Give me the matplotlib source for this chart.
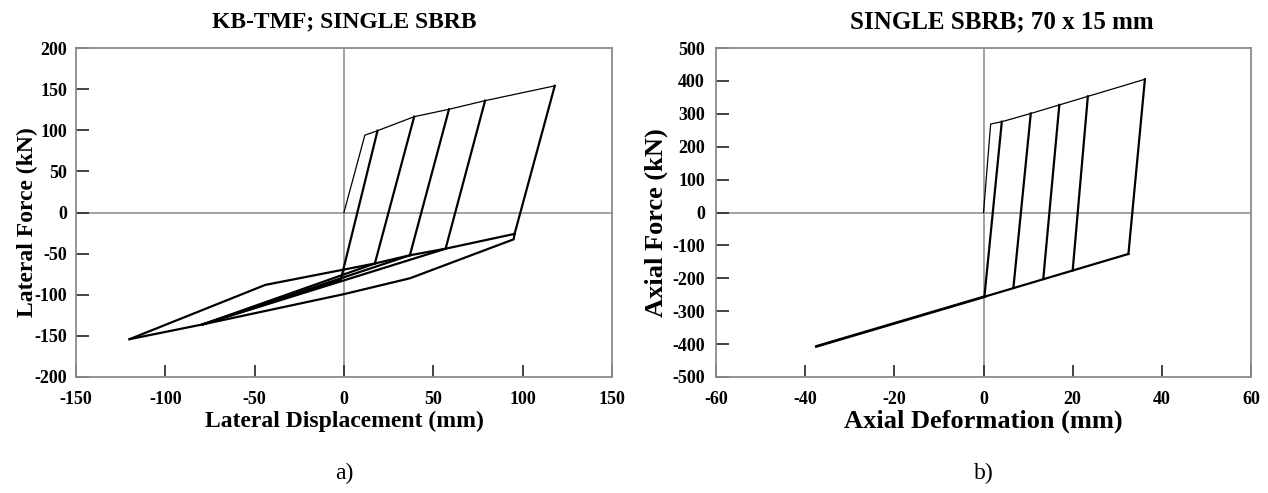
import matplotlib
matplotlib.use("Agg")
import matplotlib.pyplot as plt

plt.rcParams['font.family'] = ['Liberation Serif', 'DejaVu Serif']
plt.rcParams['axes.unicode_minus'] = False

# ---- a) KB-TMF frame with a single SBRB: lateral force vs lateral displacement ----
# first loading + positive backbone
lat_backbone_x = [0, 11.7, 18.8, 39.3, 58.8, 79.0, 118.0]
lat_backbone_y = [0, 94, 99.5, 116.5, 125.5, 136, 154]
# unloading branches: from each positive peak down to the negative side
lat_peak_x = [18.8, 39.3, 58.8, 79.0, 118.0]
lat_peak_y = [99.5, 116.5, 125.5, 136, 154]
lat_unload_x = [-1.8, 17.3, 36.9, 56.9, 95.5]
lat_unload_y = [-82, -62, -52, -44, -26]
# negative-side branches
lat_upper_x = [95.5, 56.9, 36.9, 17.3, -1.5, -44.0, -120.0]
lat_upper_y = [-26, -44, -52, -62, -70, -88, -154]
lat_lower_x = [95.5, 95.0, 36.9, 0.5, -79.0, -120.0]
lat_lower_y = [-26, -32.6, -80, -99, -136, -154]
lat_fan_end = (-79.0, -136)

# ---- b) single SBRB 70 x 15 mm: axial force vs axial deformation ----
ax_backbone_x = [0, 1.6, 4.1, 10.6, 17.0, 23.4, 36.2]
ax_backbone_y = [0, 269, 276, 301, 327, 353, 405]
ax_peak_x = [4.1, 10.6, 17.0, 23.4, 36.2]
ax_peak_y = [276, 301, 327, 353, 405]
ax_unload_x = [0.2, 6.7, 13.4, 20.0, 32.5]
ax_unload_y = [-256, -229, -202, -176, -126]
ax_comp_x = [32.5, 0.2, -37.5]
ax_comp_y = [-126, -256, -407]

fig = plt.figure(figsize=(12.68, 4.93), dpi=100)
ax1 = fig.add_axes([0.0599, 0.2353, 0.4227, 0.6673])
ax2 = fig.add_axes([0.5647, 0.2353, 0.4219, 0.6673])

thin = dict(color='black', lw=0.9)
thick = dict(color='black', lw=1.6)


def style_axes(ax, xlim, ylim, xticks, yticks, title, xlabel, ylabel, tag,
               tick_fs, label_fs, title_fs, ypad, ylab_x, title_x):
    ax.set_xlim(*xlim)
    ax.set_ylim(*ylim)
    ax.axhline(0, color='#9a9a9a', lw=1.3, zorder=0)
    ax.axvline(0, color='#9a9a9a', lw=1.3, zorder=0)
    ax.set_xticks(xticks)
    ax.set_yticks(yticks)
    ax.tick_params(direction='in', length=9, width=1.3, color='#333333',
                   labelsize=tick_fs, top=False, right=False)
    ax.tick_params(axis='x', pad=10)
    ax.tick_params(axis='y', pad=ypad)
    for lab in ax.get_xticklabels() + ax.get_yticklabels():
        lab.set_fontweight('bold')
    for sp in ax.spines.values():
        sp.set_color('#8a8a8a')
        sp.set_linewidth(1.3)
    ax.text(title_x, 1.08, title, transform=ax.transAxes, ha='center', va='center',
            fontsize=title_fs, fontweight='bold')
    ax.set_xlabel(xlabel, fontsize=label_fs, fontweight='bold')
    ax.xaxis.label.set_va('center')
    ax.xaxis.set_label_coords(0.5, -0.135)
    ax.set_ylabel(ylabel, fontsize=label_fs, fontweight='bold')
    ax.yaxis.label.set_va('center')
    ax.yaxis.set_label_coords(ylab_x, 0.47)
    ax.text(0.5, -0.292, tag, transform=ax.transAxes, ha='center', va='center',
            fontsize=17)


# panel a
ax1.plot(lat_backbone_x, lat_backbone_y, **thin)
for px, py, ux, uy in zip(lat_peak_x, lat_peak_y, lat_unload_x, lat_unload_y):
    ax1.plot([px, ux], [py, uy], **thick)
ax1.plot(lat_upper_x, lat_upper_y, **thick)
ax1.plot(lat_lower_x, lat_lower_y, **thick)
for ux, uy in zip(lat_unload_x[:4], lat_unload_y[:4]):
    ax1.plot([ux, lat_fan_end[0]], [uy, lat_fan_end[1]], **thick)
style_axes(ax1, (-150, 150), (-200, 200), range(-150, 151, 50), range(-200, 201, 50),
           'KB-TMF; SINGLE SBRB', 'Lateral Displacement (mm)', 'Lateral Force (kN)', 'a)',
           tick_fs=13, label_fs=17, title_fs=17, ypad=6.5, ylab_x=-0.0914, title_x=0.5)

# panel b
ax2.plot(ax_backbone_x, ax_backbone_y, **thin)
for px, py, ux, uy in zip(ax_peak_x, ax_peak_y, ax_unload_x, ax_unload_y):
    ax2.plot([px, ux], [py, uy], **thick)
ax2.plot(ax_comp_x[:2], ax_comp_y[:2], **thick)
ax2.plot(ax_comp_x[1:], ax_comp_y[1:], color='black', lw=2.0)
style_axes(ax2, (-60, 60), (-500, 500), range(-60, 61, 20), range(-500, 501, 100),
           'SINGLE SBRB; 70 x 15 mm', 'Axial Deformation (mm)', 'Axial Force (kN)', 'b)',
           tick_fs=13, label_fs=19, title_fs=18, ypad=8, ylab_x=-0.112, title_x=0.534)

fig.savefig('out.png', dpi=100)
